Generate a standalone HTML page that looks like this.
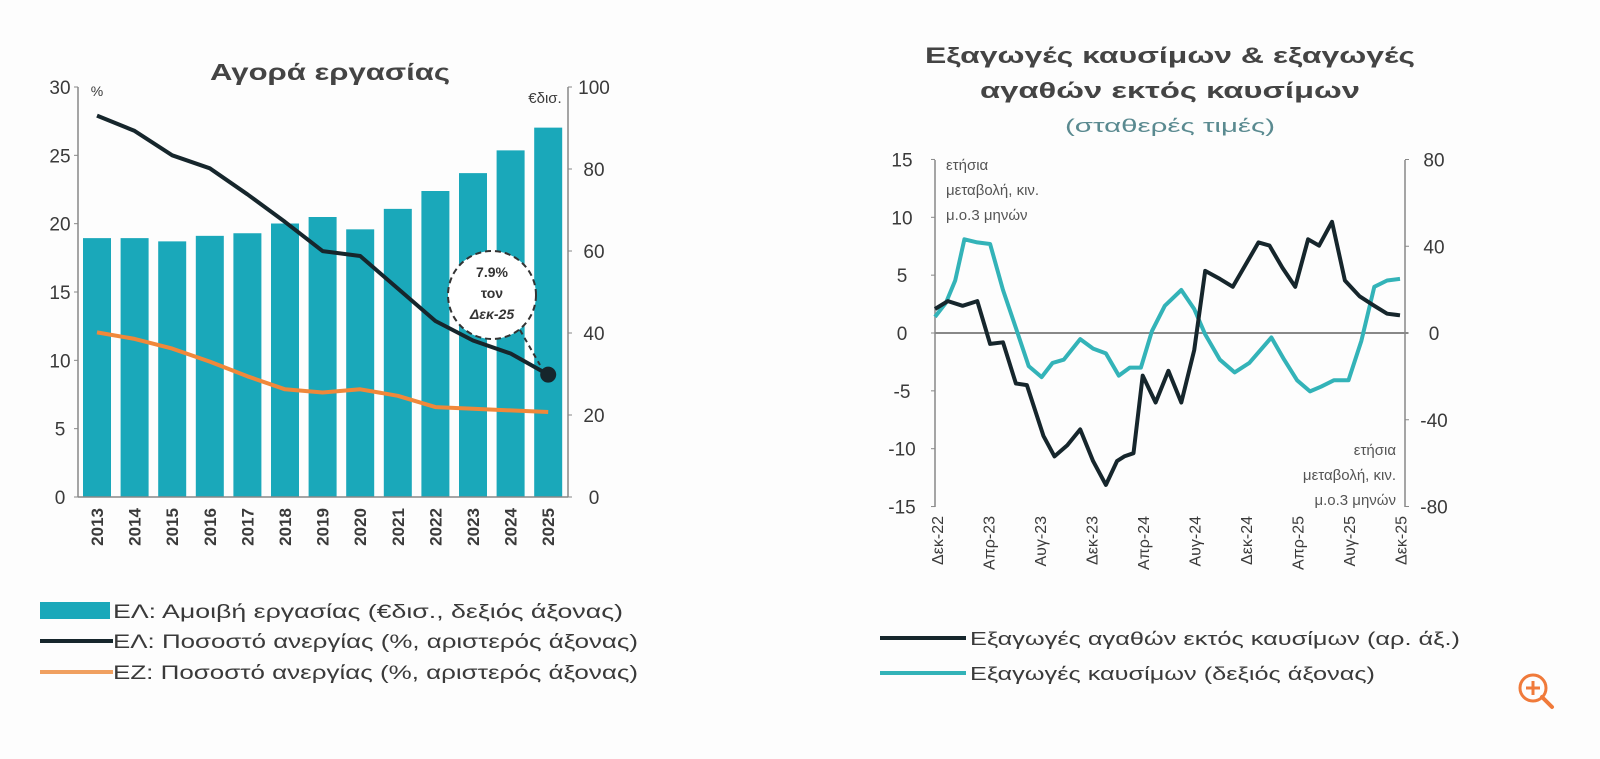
<!DOCTYPE html>
<html><head><meta charset="utf-8">
<style>
html,body{margin:0;padding:0;background:#fff;}
svg{display:block;font-family:"Liberation Sans","DejaVu Sans",sans-serif;}
</style></head>
<body>
<svg id="s" width="1600" height="759" viewBox="0 0 1600 759" xmlns="http://www.w3.org/2000/svg">
<rect width="1600" height="759" fill="#fdfdfd"/>
<g id="left"></g>
<g id="right"></g>
</svg>
<script>
var NS="http://www.w3.org/2000/svg";
function el(p,t,a,txt){var e=document.createElementNS(NS,t);for(var k in a)e.setAttribute(k,a[k]);if(txt!==undefined)e.textContent=txt;p.appendChild(e);return e;}
var L=document.getElementById('left'),R=document.getElementById('right');
var TXT="#3a3a3a";
// LEFT CHART
el(L,'text',{x:330,y:80,'font-size':23,fill:'#444','text-anchor':'middle','font-weight':'bold',textLength:240,lengthAdjust:'spacingAndGlyphs'},'Αγορά εργασίας');
var y0=497,y30=87;
function ly(v){return y0-(y0-y30)*v/30;}
el(L,'line',{x1:78,y1:87,x2:78,y2:497,stroke:'#888','stroke-width':1.5});
el(L,'line',{x1:568,y1:87,x2:568,y2:497,stroke:'#888','stroke-width':1.5});
[0,5,10,15,20,25,30].forEach(function(v){var y=ly(v);el(L,'line',{x1:74,y1:y,x2:78,y2:y,stroke:'#888'});el(L,'text',{x:60,y:y+7,'font-size':19,fill:TXT,'text-anchor':'middle'},v);});
[0,20,40,60,80,100].forEach(function(v){var y=y0-(y0-y30)*v/100;el(L,'line',{x1:568,y1:y,x2:572,y2:y,stroke:'#888'});el(L,'text',{x:594,y:y+7,'font-size':19,fill:TXT,'text-anchor':'middle'},v);});
el(L,'text',{x:97,y:96,'font-size':14,fill:TXT,'text-anchor':'middle'},'%');
el(L,'text',{x:545,y:103,'font-size':15,fill:TXT,'text-anchor':'middle'},'€δισ.');
var bz=[605,605,615,598,590,560,540,578,515,460,405,335,265];
var kz=[228,275,350,390,470,555,645,660,760,860,920,960,1025];
var oz=[895,915,945,985,1030,1070,1080,1070,1090,1125,1130,1135,1140];
function zy1(z){return 87+(z-140)*0.325;}
var cx=[];for(var i=0;i<13;i++)cx.push(97+i*37.6);
for(var i=0;i<13;i++){var t=zy1(bz[i]);el(L,'rect',{x:cx[i]-14,y:t,width:28,height:497-t,fill:'#1aa8ba'});
 el(L,'text',{x:0,y:0,'font-size':17,fill:TXT,'text-anchor':'end','font-weight':'bold',transform:'translate('+(cx[i]+6)+',508) rotate(-90)'},2013+i);}
el(L,'line',{x1:78,y1:497,x2:568,y2:497,stroke:'#888','stroke-width':1.5});
function pts(arr){return arr.map(function(z,i){return cx[i].toFixed(1)+','+zy1(z).toFixed(1);}).join(' ');}
el(L,'polyline',{points:pts(oz),fill:'none',stroke:'#f0883a','stroke-width':4,'stroke-linejoin':'round'});
el(L,'polyline',{points:pts(kz),fill:'none',stroke:'#16262c','stroke-width':4,'stroke-linejoin':'round'});
el(L,'circle',{cx:cx[12],cy:zy1(1025),r:8,fill:'#16262c'});
el(L,'circle',{cx:492,cy:295,r:44,fill:'#fff',stroke:'#333','stroke-width':2,'stroke-dasharray':'6,4'});
el(L,'line',{x1:520,y1:330,x2:540,y2:365,stroke:'#333','stroke-width':2,'stroke-dasharray':'5,4'});
el(L,'text',{x:492,y:277,'font-size':14,fill:'#333','text-anchor':'middle','font-weight':'bold'},'7.9%');
el(L,'text',{x:492,y:298,'font-size':14,fill:'#333','text-anchor':'middle','font-weight':'bold'},'τον');
el(L,'text',{x:492,y:319,'font-size':14,fill:'#333','text-anchor':'middle','font-weight':'bold','font-style':'italic'},'Δεκ-25');
el(L,'rect',{x:40,y:602,width:70,height:17,fill:'#1aa8ba'});
el(L,'text',{x:113,y:618,'font-size':19,fill:TXT,textLength:510,lengthAdjust:'spacingAndGlyphs'},'ΕΛ: Αμοιβή εργασίας (€δισ., δεξιός άξονας)');
el(L,'line',{x1:40,y1:641,x2:113,y2:641,stroke:'#16262c','stroke-width':4});
el(L,'text',{x:113,y:648,'font-size':19,fill:TXT,textLength:525,lengthAdjust:'spacingAndGlyphs'},'ΕΛ: Ποσοστό ανεργίας (%, αριστερός άξονας)');
el(L,'line',{x1:40,y1:672,x2:113,y2:672,stroke:'#f0a060','stroke-width':4});
el(L,'text',{x:113,y:679,'font-size':19,fill:TXT,textLength:525,lengthAdjust:'spacingAndGlyphs'},'ΕΖ: Ποσοστό ανεργίας (%, αριστερός άξονας)');
// RIGHT CHART
el(R,'text',{x:1170,y:63,'font-size':22,fill:'#444','text-anchor':'middle','font-weight':'bold',textLength:490,lengthAdjust:'spacingAndGlyphs'},'Εξαγωγές καυσίμων & εξαγωγές');
el(R,'text',{x:1170,y:98,'font-size':22,fill:'#444','text-anchor':'middle','font-weight':'bold',textLength:380,lengthAdjust:'spacingAndGlyphs'},'αγαθών εκτός καυσίμων');
el(R,'text',{x:1170,y:132,'font-size':18,fill:'#5a8a90','text-anchor':'middle',textLength:210,lengthAdjust:'spacingAndGlyphs'},'(σταθερές τιμές)');
function ry(v){return 333-v*11.57;}
el(R,'line',{x1:935,y1:160,x2:935,y2:507,stroke:'#888','stroke-width':1.5});
el(R,'line',{x1:1405,y1:160,x2:1405,y2:507,stroke:'#888','stroke-width':1.5});
[15,10,5,0,-5,-10,-15].forEach(function(v){var y=ry(v);el(R,'line',{x1:931,y1:y,x2:935,y2:y,stroke:'#888'});el(R,'text',{x:902,y:y+7,'font-size':19,fill:TXT,'text-anchor':'middle'},v);});
[80,40,0,-40,-80].forEach(function(v){var y=333-v*347/160;el(R,'line',{x1:1405,y1:y,x2:1409,y2:y,stroke:'#888'});el(R,'text',{x:1434,y:y+7,'font-size':19,fill:TXT,'text-anchor':'middle'},v);});
el(R,'line',{x1:935,y1:333,x2:1408,y2:333,stroke:'#888','stroke-width':2});
['ετήσια','μεταβολή, κιν.','μ.ο.3 μηνών'].forEach(function(s,i){el(R,'text',{x:946,y:170+i*25,'font-size':15,fill:'#555'},s);});
['ετήσια','μεταβολή, κιν.','μ.ο.3 μηνών'].forEach(function(s,i){el(R,'text',{x:1396,y:455+i*25,'font-size':15,fill:'#555','text-anchor':'end'},s);});
var bk=[[225,520],[260,495],[300,510],[340,495],[375,630],[410,625],[445,755],[475,760],[520,920],[550,985],[585,950],[620,900],[655,1000],[690,1075],[720,1000],[740,985],[765,975],[790,730],[825,815],[860,715],[895,815],[930,650],[960,400],[1000,425],[1035,450],[1075,370],[1105,310],[1135,320],[1170,390],[1205,450],[1240,300],[1270,320],[1305,245],[1340,430],[1380,480],[1420,510],[1455,535],[1490,540]];
var tl=[[225,545],[255,500],[280,430],[305,300],[340,310],[375,315],[410,460],[445,580],[480,700],[515,735],[545,690],[575,680],[620,615],[655,645],[690,660],[725,730],[755,705],[785,705],[815,590],[850,510],[895,460],[930,520],[960,600],[1000,680],[1040,720],[1080,690],[1140,610],[1175,680],[1210,745],[1245,780],[1275,765],[1310,745],[1350,745],[1385,620],[1420,450],[1455,430],[1490,425]];
function rp(a){return a.map(function(p){return (935+(p[0]-225)*0.3676).toFixed(1)+','+(160+(p[1]-50)*0.317).toFixed(1);}).join(' ');}
el(R,'polyline',{points:rp(tl),fill:'none',stroke:'#33b3b8','stroke-width':4,'stroke-linejoin':'round'});
el(R,'polyline',{points:rp(bk),fill:'none',stroke:'#16262c','stroke-width':4,'stroke-linejoin':'round'});
var xl=['Δεκ-22','Απρ-23','Αυγ-23','Δεκ-23','Απρ-24','Αυγ-24','Δεκ-24','Απρ-25','Αυγ-25','Δεκ-25'];
xl.forEach(function(s,i){var x=937+i*51.5;el(R,'text',{x:0,y:0,'font-size':16,fill:TXT,'text-anchor':'end',transform:'translate('+(x+6)+',516) rotate(-90)'},s);});
el(R,'line',{x1:880,y1:638,x2:966,y2:638,stroke:'#16262c','stroke-width':4});
el(R,'text',{x:970,y:645,'font-size':18,fill:TXT,textLength:490,lengthAdjust:'spacingAndGlyphs'},'Εξαγωγές αγαθών εκτός καυσίμων (αρ. άξ.)');
el(R,'line',{x1:880,y1:673,x2:966,y2:673,stroke:'#33b3b8','stroke-width':4});
el(R,'text',{x:970,y:680,'font-size':18,fill:TXT,textLength:405,lengthAdjust:'spacingAndGlyphs'},'Εξαγωγές καυσίμων (δεξιός άξονας)');
el(R,'circle',{cx:1533,cy:688,r:13,fill:'none',stroke:'#f07a3a','stroke-width':3});
el(R,'line',{x1:1542,y1:697,x2:1552,y2:707,stroke:'#f07a3a','stroke-width':4,'stroke-linecap':'round'});
el(R,'line',{x1:1526,y1:688,x2:1540,y2:688,stroke:'#f07a3a','stroke-width':3});
el(R,'line',{x1:1533,y1:681,x2:1533,y2:695,stroke:'#f07a3a','stroke-width':3});
</script>
</body></html>
